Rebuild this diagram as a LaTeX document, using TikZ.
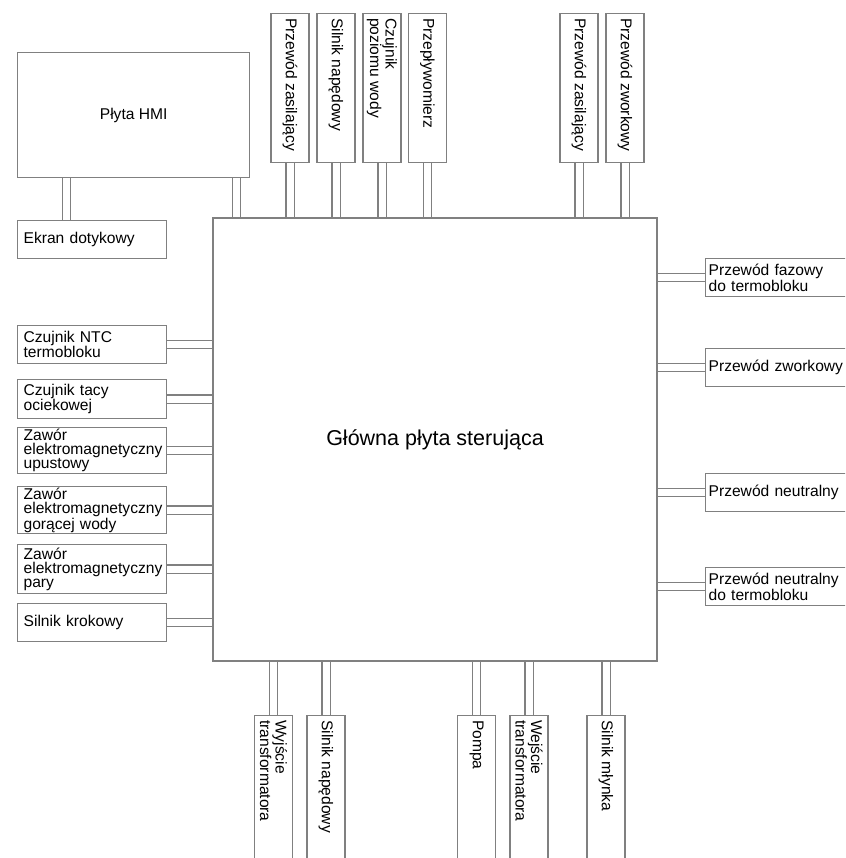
\documentclass[tikz,border=0pt]{standalone}
\usepackage{fontspec}
\setmainfont{Liberation Sans}
\definecolor{edge}{RGB}{128,128,128}
\usetikzlibrary{positioning,backgrounds}

\tikzset{
    unitbox/.style={draw=edge, line width=1.3pt, inner sep=0pt},
    leftbox/.style={unitbox, anchor=north west, minimum width=149pt, text width=137pt, inner xsep=6pt, align=left},
    rightbox/.style={unitbox, anchor=north west, minimum width=200pt, text width=194pt, inner xsep=3pt, align=left},
    topbox/.style={unitbox, anchor=north, minimum width=38pt, minimum height=149pt},
    botbox/.style={unitbox, anchor=north, minimum width=38pt, minimum height=200pt},
    vtext/.style={rotate=-90, anchor=west, align=left, inner sep=0pt},
    wire/.style={draw=edge, line width=1.3pt, double=white, double distance=7pt}
}

\begin{document}
\begin{tikzpicture}[x=1pt, y=-1pt, font=\fontsize{15.6}{14}\selectfont]
    \clip (0,0) rectangle (845,858);

    % main board
    \node[unitbox, minimum width=444pt, minimum height=443pt, font=\fontsize{21.5}{24}\selectfont] (main) at (435,439.5) {Główna płyta sterująca};

    % HMI board and touch screen
    \node[unitbox, anchor=north west, minimum width=232pt, minimum height=125pt] (hmi) at (17,52) {Płyta HMI};
    \node[leftbox, minimum height=38pt] (ekran) at (17,220) {Ekran dotykowy};
    \begin{scope}[on background layer]
        \draw[wire] ([xshift=49.5pt]hmi.south west) -- ([xshift=49.5pt]hmi.south west |- ekran.north);
        \draw[wire] ([xshift=-14pt]hmi.south east) -- ([xshift=-14pt]hmi.south east |- main.north);
    \end{scope}

    % top connectors
    \foreach \name/\cx/\txt in {zasilanie/290/{Przewód zasilający}, naped/336/{Silnik napędowy},
        poziom/382/{Czujnik\\poziomu wody}, przeplyw/427.5/{Przepływomierz},
        zasilanieb/579/{Przewód zasilający}, zworka/625/{Przewód zworkowy}} {
        \node[topbox] (\name) at (\cx,13) {};
        \node[vtext] at ([yshift=-5pt]\name.north) {\txt};
        \begin{scope}[on background layer]
            \draw[wire] (\name.south) -- (\name.south |- main.north);
        \end{scope}
    }

    % bottom connectors
    \foreach \name/\cx/\txt in {trafoout/273.5/{Wyjście\\transformatora}, napedb/326/{Silnik napędowy},
        pompa/476.5/{Pompa}, trafoin/529/{Wejście\\transformatora}, mlynek/606/{Silnik młynka}} {
        \node[botbox] (\name) at (\cx,715) {};
        \node[vtext] at ([yshift=-5pt]\name.north) {\txt};
        \begin{scope}[on background layer]
            \draw[wire] (\name.north) -- (\name.north |- main.south);
        \end{scope}
    }

    % left side
    \foreach \name/\top/\bot/\txt in {ntc/325/363/{Czujnik NTC\\termobloku}, taca/379/418/{Czujnik tacy\\ociekowej},
        upust/427/473/{Zawór\\elektromagnetyczny\\upustowy}, goraca/486/533/{Zawór\\elektromagnetyczny\\gorącej wody},
        para/544/593/{Zawór\\elektromagnetyczny\\pary}, krokowy/603/641/{Silnik krokowy}} {
        \pgfmathsetmacro{\h}{\bot-\top}
        \node[leftbox, minimum height=\h pt] (\name) at (17,\top) {\txt};
        \begin{scope}[on background layer]
            \draw[wire] (\name.east) -- (\name.east -| main.west);
        \end{scope}
    }

    % right side
    \foreach \name/\top/\bot/\txt in {faza/258/296/{Przewód fazowy\\do termobloku}, zworkowy/348/386/{Przewód zworkowy},
        neutral/473/511/{Przewód neutralny}, neutralterm/567/605/{Przewód neutralny\\do termobloku}} {
        \pgfmathsetmacro{\h}{\bot-\top}
        \node[rightbox, minimum height=\h pt] (\name) at (705,\top) {\txt};
        \begin{scope}[on background layer]
            \draw[wire] (\name.west) -- (\name.west -| main.east);
        \end{scope}
    }
\end{tikzpicture}
\end{document}
